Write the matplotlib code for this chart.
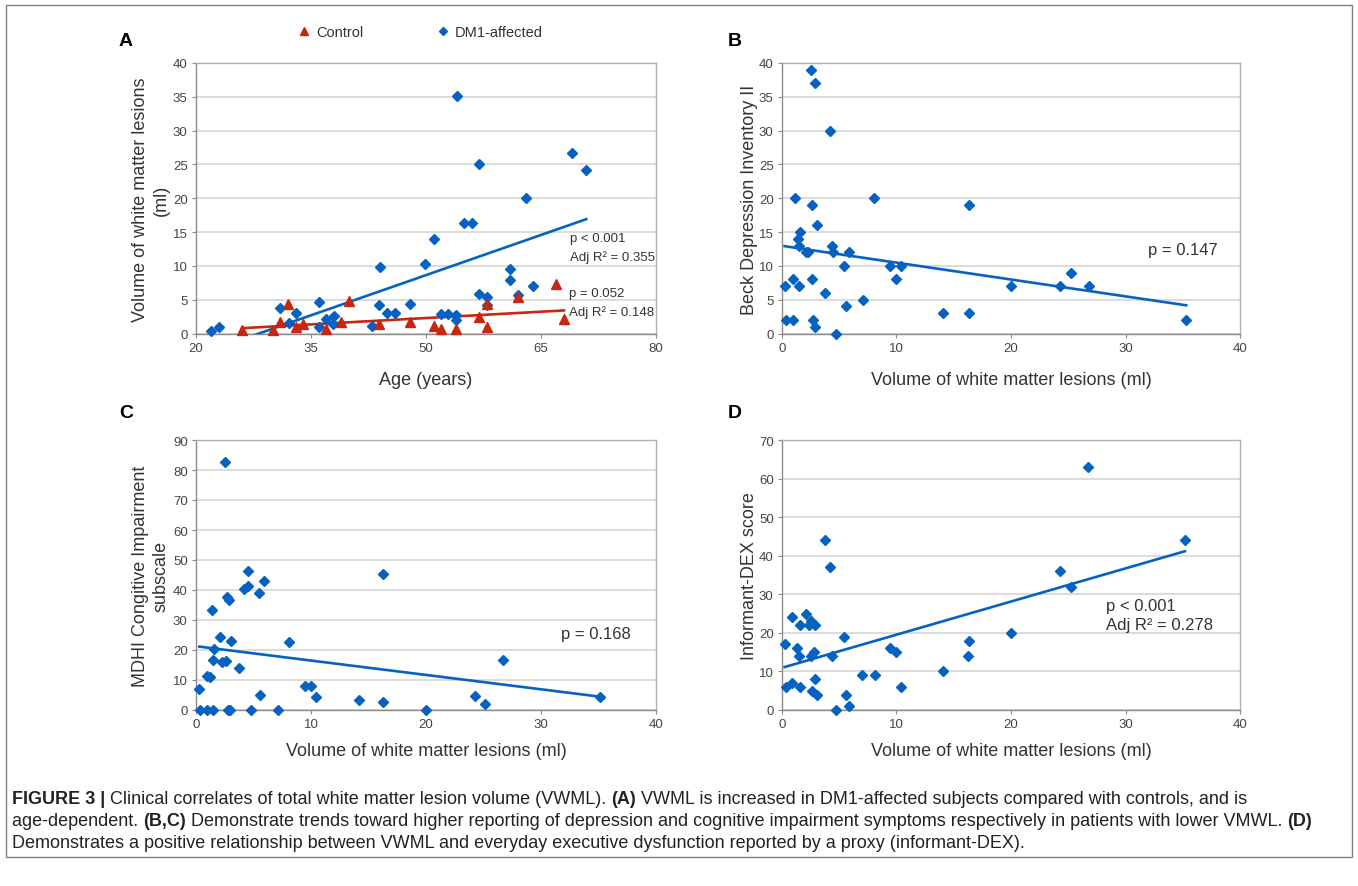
import numpy as np
import matplotlib
matplotlib.use('Agg')
import matplotlib.pyplot as plt
from matplotlib.patches import Rectangle

plt.rcParams['font.family'] = ['Liberation Sans', 'DejaVu Sans']

W, H = 1358, 887
BLUE = '#0562c2'
RED = '#c8260e'

# Panel A: age vs white matter lesion volume
dm1_age = [22.0, 23.0, 30.9, 33.0, 32.1, 36.0, 36.0, 37.0, 38.0, 37.9, 44.0, 43.9,
           44.9, 46.0, 42.9, 47.9, 49.9, 51.0, 51.9, 52.9, 53.9, 53.9, 54.0, 56.9,
           69.0, 70.9, 63.0, 54.9, 56.0, 60.9, 60.9, 64.0, 56.9, 58.0, 62.0, 58.0]
dm1_vol = [0.4, 0.9, 3.7, 3.0, 1.6, 4.7, 1.0, 2.2, 2.6, 1.4, 9.9, 4.2,
           3.0, 3.0, 1.1, 4.4, 10.3, 14.0, 2.9, 2.9, 2.8, 2.0, 35.1, 25.1,
           26.7, 24.2, 20.0, 16.3, 16.3, 9.5, 7.9, 7.0, 5.8, 5.4, 5.7, 4.2]
ctrl_age = [26.0, 30.0, 30.9, 32.0, 33.0, 34.0, 37.0, 38.9, 40.0, 43.9, 47.9, 51.0,
            52.0, 53.9, 56.9, 58.0, 58.0, 62.0, 67.0, 68.0]
ctrl_vol = [0.5, 0.5, 1.7, 4.3, 1.0, 1.4, 0.6, 1.7, 4.8, 1.4, 1.7, 1.1,
            0.6, 0.6, 2.5, 4.4, 1.0, 5.4, 7.3, 2.1]
# trend lines (slope, intercept)
fit_dm1 = (0.396, -11.17)
fit_ctrl = (0.0625, -0.84)

# Panel B: volume vs Beck Depression Inventory II
b_vol = [2.54, 2.9, 4.17, 1.1, 8.05, 2.6, 3.06, 1.57, 1.37, 1.49, 2.13, 2.3, 4.37,
         4.43, 5.86, 5.42, 9.45, 10.4, 9.94, 0.23, 0.93, 1.52, 2.6, 3.73, 7.08, 5.6,
         0.38, 0.93, 2.71, 2.92, 4.75, 14.1, 16.3, 16.3, 20.0, 24.3, 25.2, 26.8, 35.3]
b_bdi = [39, 37, 30, 20, 20, 19, 16, 15, 14, 13, 12, 12, 13,
         12, 12, 10, 10, 10, 8, 7, 8, 7, 8, 6, 5, 4,
         2, 2, 2, 1, 0, 3, 3, 19, 7, 7, 9, 7, 2]
fit_b = (-0.2493, 12.97)

# Panel C: volume vs MDHI cognitive impairment subscale
c_vol = [2.56, 4.48, 16.25, 5.9, 4.2, 4.56, 5.47, 2.67, 2.9, 1.37, 2.12, 3.08, 8.05,
         1.6, 1.51, 2.3, 2.62, 3.78, 0.93, 1.22, 0.29, 9.45, 10.0, 10.4, 5.58, 14.2,
         16.3, 0.35, 0.93, 1.51, 2.82, 3.0, 4.74, 7.1, 19.97, 24.3, 25.1, 26.7, 35.1]
c_mdhi = [82.8, 46.4, 45.3, 42.9, 40.2, 41.2, 39.1, 37.7, 36.6, 33.4, 24.2, 22.9, 22.8,
          20.4, 16.8, 15.9, 16.5, 14.1, 11.3, 11.0, 7.1, 8.0, 8.0, 4.4, 5.1, 3.3,
          2.7, 0, 0, 0, 0, 0, 0, 0, 0, 4.6, 2.1, 16.8, 4.5]
fit_c = (-0.479, 21.27)

# Panel D: volume vs informant-DEX
d_vol = [3.73, 4.2, 0.9, 2.07, 1.6, 2.33, 2.5, 2.86, 5.39, 0.23, 1.34, 1.49, 2.5,
         2.77, 4.37, 9.42, 9.94, 16.36, 16.27, 14.1, 7.03, 8.08, 2.89, 10.4, 0.38,
         0.9, 1.55, 2.62, 3.03, 5.63, 5.86, 4.75, 20.0, 26.76, 35.19, 24.3, 25.2]
d_dex = [44, 37, 24, 25, 22, 22, 23, 22, 19, 17, 16, 14, 14,
         15, 14, 16, 15, 18, 14, 10, 9, 9, 8, 6, 6,
         7, 6, 5, 4, 4, 1, 0, 20, 63, 44, 36, 32]
fit_d = (0.859, 10.94)

fig = plt.figure(figsize=(W / 100, H / 100), dpi=100)


def add_ax(l, t, r, b):
    return fig.add_axes([l / W, 1 - b / H, (r - l) / W, (b - t) / H])


def ftext(x, y, s, **kw):
    return fig.text(x / W, 1 - y / H, s, **kw)


def style(ax, xlim, xticks, ylim, yticks):
    ax.set_xlim(xlim)
    ax.set_ylim(ylim)
    ax.set_xticks(xticks)
    ax.set_yticks(yticks)
    ax.yaxis.grid(True, color='#d9d9d9', lw=1.3)
    ax.set_axisbelow(True)
    for side in ['top', 'right']:
        ax.spines[side].set_color('#b0b0b0')
    for side in ['left', 'bottom']:
        ax.spines[side].set_color('#8a8a8a')
    for sp in ax.spines.values():
        sp.set_linewidth(1.0)
    ax.tick_params(length=3, width=0.8, color='#8a8a8a', labelsize=9.5,
                   labelcolor='#444444', pad=3)


def trend(ax, x, fit, color):
    xs = np.array([min(x), max(x)])
    ax.plot(xs, fit[0] * xs + fit[1], color=color, lw=1.9, zorder=3)


lab_kw = dict(fontsize=13, color='#333333')
ann_kw = dict(fontsize=12, color='#333333')
small_ann = dict(fontsize=9.5, color='#333333', ha='left', va='center')
DMS = 5.6

# ---- A
axA = add_ax(196, 64, 656, 334.5)
style(axA, (20, 80), np.arange(20, 81, 15), (0, 40), np.arange(0, 41, 5))
trend(axA, dm1_age, fit_dm1, BLUE)
trend(axA, ctrl_age, fit_ctrl, RED)
axA.plot(dm1_age, dm1_vol, 'D', color=BLUE, ms=DMS, clip_on=False, zorder=4,
         label='DM1-affected')
axA.plot(ctrl_age, ctrl_vol, '^', color=RED, ms=7, clip_on=False, zorder=5,
         label='Control')
ftext(426, 381, 'Age (years)', ha='center', va='center', **lab_kw)
ftext(151, 200, 'Volume of white matter lesions\n(ml)', rotation=90, ha='center',
      va='center', linespacing=1.25, **lab_kw)
ftext(570, 239, 'p < 0.001', **small_ann)
ftext(570, 258, 'Adj R² = 0.355', **small_ann)
ftext(569, 294, 'p = 0.052', **small_ann)
ftext(569, 313, 'Adj R² = 0.148', **small_ann)
handles, labels = axA.get_legend_handles_labels()
fig.legend(handles[::-1], labels[::-1], loc='center', ncol=2,
           bbox_to_anchor=(420 / W, 1 - 33 / H), frameon=False, fontsize=10.5,
           labelcolor='#333333', columnspacing=5, handletextpad=0.3,
           handlelength=1.0, markerscale=0.8)

# ---- B
axB = add_ax(782, 64, 1240, 334.5)
style(axB, (0, 40), np.arange(0, 41, 10), (0, 40), np.arange(0, 41, 5))
trend(axB, b_vol, fit_b, BLUE)
axB.plot(b_vol, b_bdi, 'D', color=BLUE, ms=DMS, clip_on=False, zorder=4)
ftext(1011, 381, 'Volume of white matter lesions (ml)', ha='center', va='center', **lab_kw)
ftext(749, 200, 'Beck Depression Inventory II', rotation=90, ha='center',
      va='center', **lab_kw)
ftext(1148, 250, 'p = 0.147', ha='left', va='center', **ann_kw)

# ---- C
axC = add_ax(196, 441, 656, 711)
style(axC, (0, 40), np.arange(0, 41, 10), (0, 90), np.arange(0, 91, 10))
trend(axC, c_vol, fit_c, BLUE)
axC.plot(c_vol, c_mdhi, 'D', color=BLUE, ms=DMS, clip_on=False, zorder=4)
ftext(426, 752, 'Volume of white matter lesions (ml)', ha='center', va='center', **lab_kw)
ftext(151, 576, 'MDHI Congitive Impairment\nsubscale', rotation=90, ha='center',
      va='center', linespacing=1.25, **lab_kw)
ftext(561, 635, 'p = 0.168', ha='left', va='center', **ann_kw)

# ---- D
axD = add_ax(782, 441, 1240, 711)
style(axD, (0, 40), np.arange(0, 41, 10), (0, 70), np.arange(0, 71, 10))
trend(axD, d_vol, fit_d, BLUE)
axD.plot(d_vol, d_dex, 'D', color=BLUE, ms=DMS, clip_on=False, zorder=4)
ftext(1011, 752, 'Volume of white matter lesions (ml)', ha='center', va='center', **lab_kw)
ftext(749, 576, 'Informant-DEX score', rotation=90, ha='center', va='center', **lab_kw)
ftext(1106, 606, 'p < 0.001', ha='left', va='center', **ann_kw)
ftext(1106, 626, 'Adj R² = 0.278', ha='left', va='center', **ann_kw)

# panel letters
for x, y, s in [(126, 42, 'A'), (735, 42, 'B'), (126, 413, 'C'), (735, 413, 'D')]:
    ftext(x, y, s, ha='center', va='center', fontsize=14, fontweight='bold', color='black')

# caption with bold parts
caption = [
    [('FIGURE 3 |', True), (' Clinical correlates of total white matter lesion volume (VWML). ', False),
     ('(A)', True), (' VWML is increased in DM1-affected subjects compared with controls, and is', False)],
    [('age-dependent. ', False), ('(B,C)', True),
     (' Demonstrate trends toward higher reporting of depression and cognitive impairment symptoms '
      'respectively in patients with lower VMWL. ', False), ('(D)', True)],
    [('Demonstrates a positive relationship between VWML and everyday executive dysfunction '
      'reported by a proxy (informant-DEX).', False)],
]
renderer = fig.canvas.get_renderer()


def seg_width(s, weight, size):
    a = fig.text(0, 0, 'x' + s + 'x', fontsize=size, fontweight=weight)
    b = fig.text(0, 0, 'xx', fontsize=size, fontweight=weight)
    w = a.get_window_extent(renderer).width - b.get_window_extent(renderer).width
    a.remove()
    b.remove()
    return w


cap_size = 13
for i, line in enumerate(caption):
    x = 12
    y = 800 + i * 22
    for s, bold in line:
        wt = 'bold' if bold else 'normal'
        ftext(x, y, s, ha='left', va='center', fontsize=cap_size, fontweight=wt, color='#222222')
        x += seg_width(s, wt, cap_size)

fig.patches.append(Rectangle((6 / W, 1 - 858 / H), (1352 - 6) / W, (858 - 6) / H,
                             transform=fig.transFigure, fill=False, ec='#808080', lw=1.0))

fig.savefig('out.png', dpi=100, facecolor='white')
